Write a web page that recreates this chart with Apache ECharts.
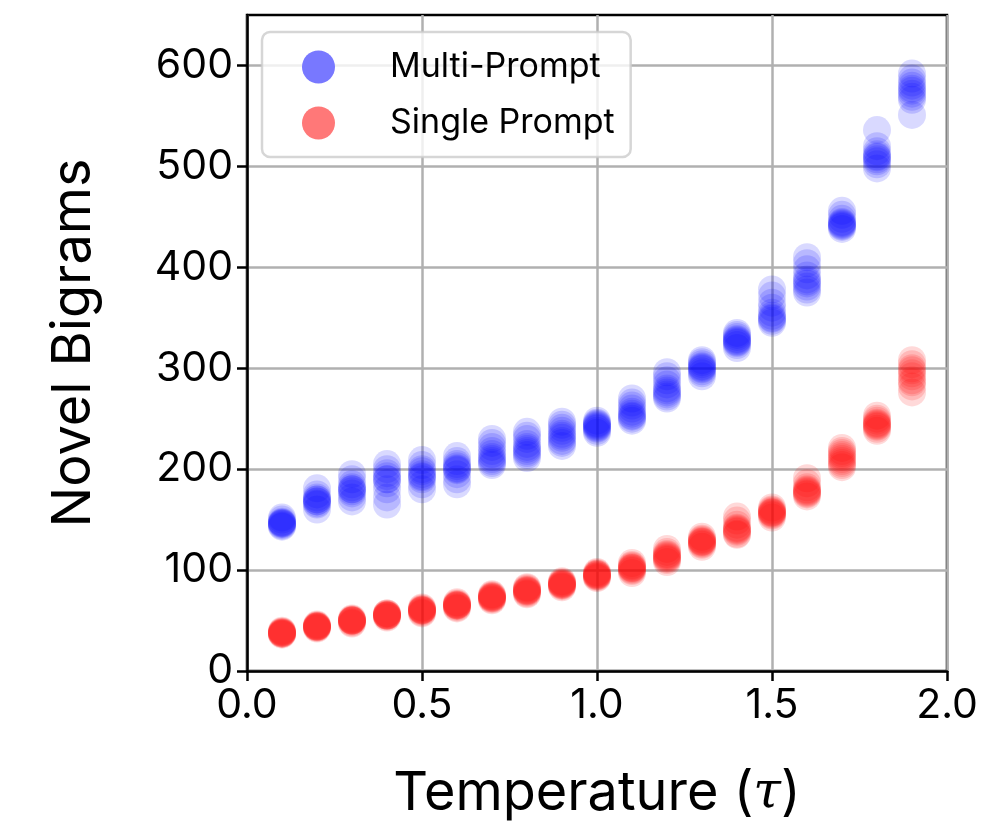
<!DOCTYPE html>
<html>
<head>
<meta charset="utf-8">
<script src="https://cdn.jsdelivr.net/npm/echarts@6/dist/echarts.min.js"></script>
<style>
html,body{margin:0;padding:0;background:#fff;}
#chart{width:983px;height:826px;}
</style>
</head>
<body>
<div id="chart"></div>
<script>
// Temperatures (x) — each row of the value arrays below is one temperature, 10 runs each
const temperatures = [0.1,0.2,0.3,0.4,0.5,0.6,0.7,0.8,0.9,1.0,1.1,1.2,1.3,1.4,1.5,1.6,1.7,1.8,1.9];

const multiPrompt = [
  [144,146,147,148,145,150,146,143,152,147],
  [160,165,168,170,172,170,175,168,181,166],
  [168,172,176,180,182,185,178,190,195,180],
  [165,172,180,186,190,193,196,200,205,190],
  [180,185,190,193,195,198,200,204,209,192],
  [185,190,195,199,201,203,205,208,213,200],
  [204,206,208,210,212,215,218,222,226,230],
  [211,214,216,218,220,222,225,230,233,237],
  [223,226,228,231,233,235,238,241,244,247],
  [236,238,240,241,242,243,244,245,246,248],
  [248,250,252,253,255,257,260,263,266,270],
  [270,272,274,276,278,280,284,288,292,296],
  [292,295,297,299,300,301,302,304,306,308],
  [320,323,325,326,327,328,329,331,333,335],
  [345,347,349,350,352,355,360,365,372,378],
  [375,378,381,384,386,388,392,398,404,410],
  [438,440,441,442,443,444,445,448,452,456],
  [498,502,505,507,509,510,512,515,520,536],
  [551,566,569,572,575,577,580,583,587,592]
];

const singlePrompt = [
  [36,37,37,38,38,38,39,39,40,37],
  [42,43,43,44,44,44,45,45,46,44],
  [47,48,49,50,50,50,51,51,52,50],
  [53,54,55,55,55,56,56,57,57,55],
  [57,58,59,60,60,60,61,61,62,63],
  [62,63,64,65,65,65,66,66,67,68],
  [70,71,72,72,73,73,74,74,75,76],
  [76,77,78,79,79,80,80,81,82,83],
  [83,84,85,85,86,86,87,87,88,89],
  [92,93,94,94,95,95,96,96,97,98],
  [97,99,100,101,102,102,103,104,105,107],
  [108,110,111,112,113,114,115,116,118,121],
  [123,125,126,127,128,128,129,130,131,133],
  [135,136,138,139,140,141,142,145,149,153],
  [152,154,155,156,157,157,158,159,160,162],
  [173,175,176,177,178,179,180,182,186,191],
  [202,204,206,208,210,212,214,216,218,221],
  [238,240,242,243,244,245,246,248,250,253],
  [276,282,286,288,292,295,298,300,304,308]
];

const xTicks = [0, 0.5, 1.0, 1.5, 2.0];
const yTicks = [0, 100, 200, 300, 400, 500, 600];
const seriesNames = ['Multi-Prompt', 'Single Prompt'];

function toPoints(rows) {
  const pts = [];
  rows.forEach((vals, i) => vals.forEach(v => pts.push([temperatures[i], v])));
  return pts;
}

const FONT = 'Inter, "Noto Sans", sans-serif';
const chart = echarts.init(document.getElementById('chart'), null, {renderer: 'canvas'});
chart.setOption({
  animation: false,
  backgroundColor: '#fff',
  grid: {left: 247, right: 36, top: 15, bottom: 152, show: true, borderColor: '#000', borderWidth: 2.5, backgroundColor: 'transparent'},
  xAxis: {
    type: 'value', min: 0, max: 2, interval: 0.5,
    name: 'Temperature ({i|τ})', nameLocation: 'middle', nameGap: 96,
    nameTextStyle: {fontFamily: FONT, fontSize: 54, color: '#000',
      rich: {i: {fontFamily: '"DejaVu Serif", serif', fontStyle: 'italic', fontSize: 50, color: '#000'}}},
    axisLine: {show: true, onZero: false, lineStyle: {color: '#000', width: 2.5}},
    axisTick: {show: true, inside: false, length: 10, lineStyle: {color: '#000', width: 2.5}},
    axisLabel: {fontFamily: FONT, fontSize: 41, color: '#000', margin: 14,
      customValues: xTicks, formatter: v => v.toFixed(1)},
    splitLine: {show: true, lineStyle: {color: '#b0b0b0', width: 2.5}}
  },
  yAxis: {
    type: 'value', min: 0, max: 650, interval: 100,
    name: 'Novel Bigrams', nameLocation: 'middle', nameGap: 146, nameRotate: 90,
    nameTextStyle: {fontFamily: FONT, fontSize: 54, color: '#000'},
    axisLine: {show: true, onZero: false, lineStyle: {color: '#000', width: 2.5}},
    axisTick: {show: true, inside: false, length: 10, customValues: yTicks, lineStyle: {color: '#000', width: 2.5}},
    axisLabel: {fontFamily: FONT, fontSize: 41, color: '#000', margin: 14, customValues: yTicks},
    splitLine: {show: true, lineStyle: {color: '#b0b0b0', width: 2.5}}
  },
  legend: {
    orient: 'vertical', left: 262, top: 32,
    padding: [18, 16, 17, 40],
    itemWidth: 33, itemHeight: 33, itemGap: 22,
    icon: 'circle',
    backgroundColor: 'rgba(255,255,255,0.8)',
    borderColor: 'rgba(204,204,204,0.8)', borderWidth: 2.5, borderRadius: 8,
    textStyle: {fontFamily: FONT, fontSize: 34, color: '#000', padding: [0, 0, 0, 50]},
    data: [
      {name: seriesNames[0], itemStyle: {color: '#7878ff', opacity: 1}},
      {name: seriesNames[1], itemStyle: {color: '#ff7878', opacity: 1}}
    ]
  },
  series: [
    {name: seriesNames[0], type: 'scatter', symbolSize: 28, z: 3,
      itemStyle: {color: 'rgba(0,0,255,0.19)'}, data: toPoints(multiPrompt)},
    {name: seriesNames[1], type: 'scatter', symbolSize: 28, z: 3,
      itemStyle: {color: 'rgba(255,0,0,0.19)'}, data: toPoints(singlePrompt)}
  ]
});
</script>
</body>
</html>
